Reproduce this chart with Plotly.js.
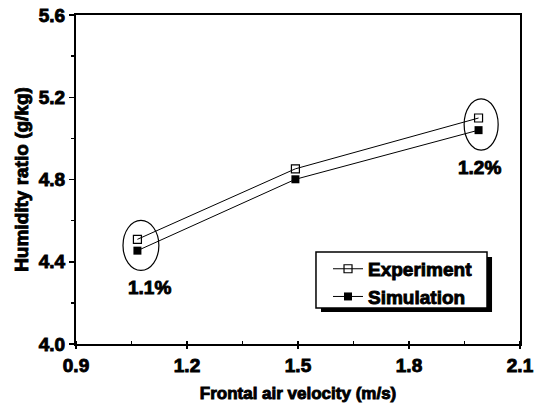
<!DOCTYPE html>
<html>
<head>
<meta charset="utf-8">
<script src="https://cdn.plot.ly/plotly-3.0.1.min.js"></script>
<style>
html,body{margin:0;padding:0;background:#fff;}
#chart{width:543px;height:412px;}
#chart svg text{stroke:#000 !important;stroke-width:0.9px !important;}
</style>
</head>
<body>
<div id="chart"></div>
<script>
// Data
const velocity = [1.066, 1.493, 1.988];          // Frontal air velocity (m/s)
const experiment = [4.509, 4.852, 5.099];        // Humidity ratio (g/kg)
const simulation = [4.454, 4.801, 5.040];
const seriesNames = ["Experiment", "Simulation"];
const xTicks = [0.9, 1.2, 1.5, 1.8, 2.1];
const yTicks = [4.0, 4.4, 4.8, 5.2, 5.6];
const errorLabels = ["1.1%", "1.2%"];
const errorLabelX = [1.0996, 1.9895];
const errorLabelY = [4.275, 4.86];
// ellipse extents around the compared points [x0, x1, y0, y1]
const ellipseA = [1.027, 1.124, 4.358, 4.601];
const ellipseB = [1.949, 2.041, 4.943, 5.192];

const FONT = "Liberation Sans, Arial, Helvetica, sans-serif";
const b = s => "<b>" + s + "</b>";

const traces = [
  {
    x: velocity, y: experiment, name: b(seriesNames[0]), type: "scatter", mode: "lines+markers",
    line: {color: "#000", width: 1},
    marker: {symbol: "square-open", size: 8, color: "#000", line: {width: 1.2, color: "#000"}}
  },
  {
    x: velocity, y: simulation, name: b(seriesNames[1]), type: "scatter", mode: "lines+markers",
    line: {color: "#000", width: 1},
    marker: {symbol: "square", size: 8, color: "#000"}
  }
];

const boxX0 = 0.5405, boxX1 = 0.9257, boxY0 = 0.1094, boxY1 = 0.2796;
const shapes = [
  {type: "circle", xref: "x", yref: "y", x0: ellipseA[0], x1: ellipseA[1], y0: ellipseA[2], y1: ellipseA[3], line: {color: "#000", width: 1.2}},
  {type: "circle", xref: "x", yref: "y", x0: ellipseB[0], x1: ellipseB[1], y0: ellipseB[2], y1: ellipseB[3], line: {color: "#000", width: 1.2}},
  {type: "rect", xref: "paper", yref: "paper", x0: boxX0 + 0.0113, x1: boxX1 + 0.0113, y0: boxY0 - 0.0122, y1: boxY1 - 0.0152, fillcolor: "#000", line: {width: 0}, layer: "above"},
  {type: "rect", xref: "paper", yref: "paper", x0: boxX0, x1: boxX1, y0: boxY0, y1: boxY1, fillcolor: "#fff", line: {color: "#000", width: 1.5}, layer: "above"}
];

const annotations = errorLabels.map((t, i) => ({
  x: errorLabelX[i], y: errorLabelY[i], xref: "x", yref: "y", text: b(t), showarrow: false,
  font: {family: FONT, size: 19, color: "#000"}
}));

const layout = {
  width: 543, height: 412,
  margin: {l: 76, r: 23, t: 15, b: 68},
  paper_bgcolor: "#fff", plot_bgcolor: "#fff",
  showlegend: true,
  legend: {
    x: 0.5676, y: 0.286, xanchor: "left", yanchor: "top",
    bgcolor: "rgba(0,0,0,0)", borderwidth: 0,
    font: {family: FONT, size: 19, color: "#000"},
    tracegroupgap: 0
  },
  xaxis: {
    range: [0.9, 2.1], tickvals: xTicks, ticktext: xTicks.map(v => b(v.toFixed(1))),
    showgrid: false, zeroline: false,
    showline: true, linecolor: "#000", linewidth: 2, mirror: true,
    ticks: "outside", ticklen: 3, tickwidth: 1.5, tickcolor: "#000",
    minor: {dtick: 0.15, tick0: 0.9, ticks: "inside", ticklen: 3, tickcolor: "#000", showgrid: false},
    tickfont: {family: FONT, size: 19, color: "#000"},
    title: {text: b("Frontal air velocity (m/s)"), font: {family: FONT, size: 17, color: "#000"}, standoff: 12}
  },
  yaxis: {
    range: [4.0, 5.6], tickvals: yTicks, ticktext: yTicks.map(v => b(v.toFixed(1))),
    showgrid: false, zeroline: false,
    showline: true, linecolor: "#000", linewidth: 2, mirror: true,
    ticks: "outside", ticklen: 5, tickwidth: 1.5, tickcolor: "#000",
    minor: {dtick: 0.2, tick0: 4.0, ticks: "outside", ticklen: 3, tickcolor: "#000", showgrid: false},
    tickfont: {family: FONT, size: 19, color: "#000"},
    title: {text: b("Humidity ratio (g/kg)"), font: {family: FONT, size: 19, color: "#000"}, standoff: 5}
  },
  shapes: shapes,
  annotations: annotations
};

Plotly.newPlot("chart", traces, layout, {staticPlot: true, displayModeBar: false});
</script>
</body>
</html>
